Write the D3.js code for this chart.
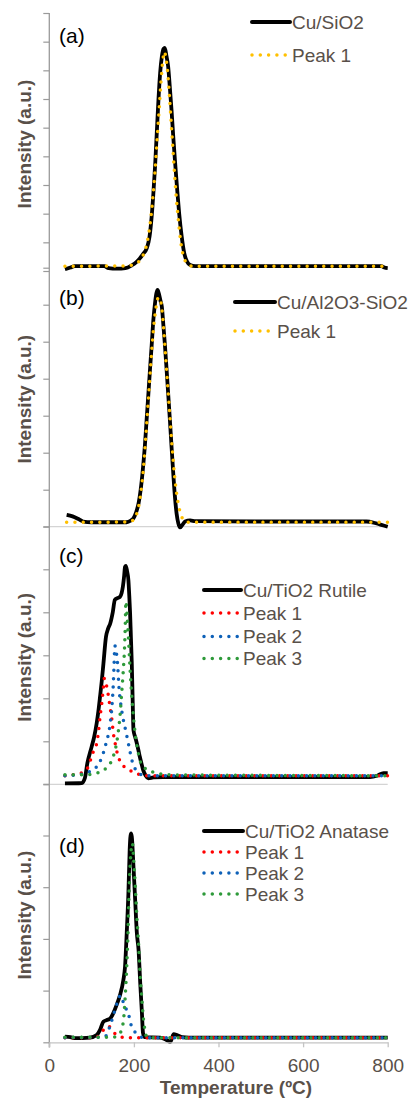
<!DOCTYPE html>
<html>
<head>
<meta charset="utf-8">
<script src="https://cdn.jsdelivr.net/npm/d3@7/dist/d3.min.js"></script>
<style>
  html, body { margin: 0; padding: 0; background: #fff; }
  svg { display: block; }
  text { font-family: "Liberation Sans", Arial, sans-serif; }
</style>
</head>
<body>
<svg id="chart" width="409" height="1100"></svg>
<script>
// TPR profiles: [temperature (ºC), intensity (a.u.)]
const cuSiO2 = [[37,0.06],[50,0.12],[60,0.17],[90,0.17],[130,0.17],[140,0.1],[160,0.08],[180,0.1],[195,0.2],[205,0.3],[214,0.44],[222,0.6],[230,0.78],[237,1.2],[242,1.9],[246,2.7],[250,3.64],[254,4.8],[258,5.96],[262,6.9],[266,7.47],[270,7.75],[273,7.78],[277,7.5],[281,7.13],[285,6.4],[289,5.6],[293,4.7],[297,3.87],[302,2.9],[307,2.01],[313,1.2],[319,0.62],[326,0.32],[333,0.21],[345,0.17],[500,0.17],[700,0.17],[785,0.17],[792,0.12],[800,0.1]];
const cuSiO2Peak1 = [[37,0.17],[100,0.17],[180,0.18],[200,0.22],[210,0.3],[220,0.5],[228,0.8],[235,1.3],[240,1.85],[245,2.6],[250,3.5],[255,4.6],[260,5.7],[264,6.6],[268,7.3],[272,7.65],[276,7.4],[280,6.9],[284,6.1],[288,5.2],[292,4.3],[296,3.4],[300,2.6],[305,1.8],[310,1.1],[315,0.65],[320,0.4],[328,0.22],[340,0.17],[800,0.17]];

const cuAlSi = [[41,0.32],[55,0.28],[70,0.2],[80,0.14],[100,0.12],[150,0.12],[183,0.12],[192,0.16],[199,0.23],[205,0.38],[211,0.63],[216,1.0],[221,1.53],[226,2.2],[230,2.88],[234,3.55],[238,4.24],[242,4.9],[246,5.59],[250,6.05],[253,6.3],[256,6.4],[259,6.3],[263,6.1],[266,5.95],[270,5.4],[273,4.96],[277,4.3],[281,3.6],[285,2.9],[289,2.16],[293,1.45],[297,0.81],[301,0.35],[305,0.09],[309,-0.02],[314,0.04],[321,0.14],[333,0.17],[345,0.15],[500,0.14],[700,0.14],[750,0.14],[770,0.1],[785,0.05],[800,0.0]];
const cuAlSiPeak1 = [[41,0.12],[100,0.12],[190,0.13],[200,0.2],[208,0.4],[215,0.8],[222,1.5],[228,2.4],[234,3.4],[240,4.4],[246,5.3],[252,5.9],[258,6.2],[262,6.15],[266,5.9],[270,5.4],[275,4.6],[280,3.8],[285,3.0],[290,2.2],[296,1.4],[301,0.9],[306,0.55],[312,0.3],[320,0.15],[330,0.12],[800,0.12]];

const cuRutile = [[37,0.02],[77,0.03],[84,0.14],[90,0.49],[100,0.87],[106,1.1],[112,1.42],[116,1.7],[120,2.04],[124,2.4],[128,2.81],[134,3.43],[139,3.62],[144,3.74],[150,4.0],[155,4.29],[161,4.33],[167,4.36],[171,4.45],[174,4.6],[177,4.85],[179,5.06],[181,5.08],[184,4.95],[187,4.75],[189,4.4],[191,3.98],[193,3.4],[195,2.81],[197,2.0],[199,1.26],[203,1.1],[207,0.95],[211,0.78],[214,0.64],[218,0.48],[222,0.33],[228,0.2],[234,0.14],[246,0.16],[270,0.17],[500,0.17],[758,0.17],[775,0.2],[790,0.26],[800,0.26]];
const rutilePeak1 = [[37,0.2],[60,0.23],[77,0.27],[90,0.37],[97,0.55],[104,0.76],[112,0.95],[116,1.2],[120,1.57],[124,1.88],[128,2.27],[130,2.46],[134,2.35],[140,2.04],[144,1.77],[148,1.5],[151,1.22],[155,0.99],[163,0.64],[170,0.49],[183,0.37],[203,0.27],[225,0.2],[800,0.2]];
const rutilePeak2 = [[37,0.2],[80,0.24],[100,0.32],[112,0.41],[125,0.65],[134,0.95],[144,1.42],[148,1.8],[151,2.27],[153,2.75],[155,3.22],[158,3.1],[161,2.85],[165,2.22],[171,1.73],[181,1.23],[188,0.9],[195,0.57],[207,0.3],[220,0.22],[240,0.2],[800,0.2]];
const rutilePeak3 = [[37,0.22],[80,0.22],[112,0.26],[134,0.37],[151,0.64],[158,0.9],[163,1.22],[168,1.69],[171,2.11],[175,2.66],[178,3.2],[179.5,3.66],[181,4.25],[184,3.9],[187,3.43],[191,2.66],[195,2.04],[199,1.57],[203,1.18],[209,0.8],[214,0.57],[222,0.41],[234,0.33],[254,0.26],[280,0.22],[800,0.2]];

const cuAnatase = [[37,0.11],[50,0.1],[61,0.08],[96,0.09],[112,0.14],[120,0.24],[128,0.4],[136,0.43],[144,0.46],[151,0.56],[159,0.72],[167,0.91],[175,1.2],[179,1.46],[183,2.11],[187,2.88],[190,3.72],[193,4.04],[195,3.98],[199,3.4],[203,2.75],[207,2.11],[211,1.79],[215,1.14],[219,0.56],[221.5,0.18],[225,0.1],[262,0.09],[274,0.06],[282,0.02],[286,0.01],[290,0.08],[294,0.16],[302,0.14],[314,0.1],[330,0.09],[800,0.09]];
const anatasePeak1 = [[37,0.09],[110,0.09],[120,0.16],[128,0.24],[134,0.3],[140,0.31],[148,0.24],[155,0.17],[167,0.11],[180,0.09],[800,0.09]];
const anatasePeak2 = [[37,0.09],[125,0.1],[136,0.14],[142,0.28],[148,0.43],[155,0.62],[163,0.82],[168,0.91],[176,0.75],[183,0.62],[187,0.56],[191,0.4],[199,0.24],[207,0.16],[215,0.11],[225,0.09],[800,0.09]];
const anatasePeak3 = [[37,0.1],[151,0.1],[160,0.12],[167,0.17],[175,0.4],[179,0.82],[183,1.46],[186,2.11],[188,2.75],[191,3.4],[193.5,3.72],[196.6,3.85],[199,3.59],[203,3.07],[207,2.43],[211,1.91],[215,1.27],[219,0.82],[222,0.5],[226,0.24],[230,0.11],[240,0.09],[800,0.09]];

const panelLetters = ["(a)", "(b)", "(c)", "(d)"];
const sampleNames = ["Cu/SiO2", "Cu/Al2O3-SiO2", "Cu/TiO2 Rutile", "Cu/TiO2 Anatase"];
const peakNames = ["Peak 1", "Peak 2", "Peak 3"];
const xTicks = [0, 200, 400, 600, 800];
const yTickCounts = [9, 7, 6, 5];
const xTitle = "Temperature (ºC)";
const yTitle = "Intensity (a.u.)";

const TEXT = "#595049";
const AXIS = "#9a9a9a";
const GRID = "#d4d4d4";
const peakColors = { yellow: "#FFC000", red: "#FF0000", blue: "#0E61B8", green: "#2E9A3A" };

const panels = [
  { top: 13,    bottom: 271,    total: cuSiO2,    peaks: [[cuSiO2Peak1, peakColors.yellow]],
    legendX: 252, legendLineEnd: 290, legendRows: [22, 55], labelY: 35, baseline: false },
  { top: 267.7, bottom: 526.7,  total: cuAlSi,    peaks: [[cuAlSiPeak1, peakColors.yellow]],
    legendX: 235, legendLineEnd: 275, legendRows: [302, 331], labelY: 297, baseline: true },
  { top: 526.3, bottom: 784.3,  total: cuRutile,  peaks: [[rutilePeak1, peakColors.red], [rutilePeak2, peakColors.blue], [rutilePeak3, peakColors.green]],
    legendX: 204, legendLineEnd: 241, legendRows: [590, 613, 636.5, 658.5], labelY: 555, baseline: true },
  { top: 783.8, bottom: 1042.3, total: cuAnatase, peaks: [[anatasePeak1, peakColors.red], [anatasePeak2, peakColors.blue], [anatasePeak3, peakColors.green]],
    legendX: 204, legendLineEnd: 243, legendRows: [831, 852, 873, 894], labelY: 845, baseline: false }
];

const svg = d3.select("#chart");
const x = d3.scaleLinear().domain([0, 800]).range([49.3, 387.7]);

const DOT = { width: 3.5, dash: "0 8.3" };
const TOTAL_W = 3.8;
const FONT = 19;

panels.forEach((p, i) => {
  const y = d3.scaleLinear().domain([0, yTickCounts[i]]).range([p.bottom, p.top]);
  const g = svg.append("g");

  if (p.baseline) {
    g.append("line")
      .attr("x1", x(0)).attr("x2", x(800))
      .attr("y1", y(0)).attr("y2", y(0))
      .attr("stroke", GRID).attr("stroke-width", 1.2);
  }

  // left tick stubs
  const ya = g.append("g")
    .attr("transform", `translate(${x(0)},0)`)
    .call(d3.axisLeft(y).tickValues(d3.range(0, yTickCounts[i] + 1)).tickSize(6).tickFormat(""));
  ya.select(".domain").remove();
  ya.selectAll(".tick line").attr("stroke", AXIS).attr("stroke-width", 1.2);

  const line = d3.line()
    .x(d => x(d[0])).y(d => y(d[1]))
    .curve(d3.curveMonotoneX);

  g.append("path")
    .datum(p.total)
    .attr("d", line)
    .attr("fill", "none")
    .attr("stroke", "#000")
    .attr("stroke-width", TOTAL_W)
    .attr("stroke-linejoin", "round");

  p.peaks.forEach(([data, color]) => {
    g.append("path")
      .datum(data)
      .attr("d", line)
      .attr("fill", "none")
      .attr("stroke", color)
      .attr("stroke-width", DOT.width)
      .attr("stroke-linecap", "round")
      .attr("stroke-dasharray", DOT.dash);
  });

  // panel letter
  g.append("text")
    .attr("x", 59).attr("y", p.labelY)
    .attr("dominant-baseline", "central")
    .attr("font-size", 21)
    .attr("fill", "#000")
    .text(panelLetters[i]);

  // y title
  const cy = (p.top + p.bottom) / 2 + 2;
  g.append("text")
    .attr("transform", `translate(24,${cy}) rotate(-90)`)
    .attr("text-anchor", "middle")
    .attr("dominant-baseline", "central")
    .attr("font-size", FONT)
    .attr("font-weight", "bold")
    .attr("fill", TEXT)
    .text(yTitle);

  // legend
  const entries = [{ name: sampleNames[i], color: "#000", dotted: false }]
    .concat(p.peaks.map((pk, k) => ({ name: peakNames[k], color: pk[1], dotted: true })));
  entries.forEach((e, k) => {
    const ly = p.legendRows[k];
    const ln = g.append("line")
      .attr("x1", p.legendX).attr("x2", p.legendLineEnd)
      .attr("y1", ly).attr("y2", ly)
      .attr("stroke", e.color);
    if (e.dotted) {
      ln.attr("stroke-width", DOT.width).attr("stroke-linecap", "round").attr("stroke-dasharray", DOT.dash);
    } else {
      ln.attr("stroke-width", 4).attr("stroke-linecap", "round");
    }
    g.append("text")
      .attr("x", p.legendLineEnd + 2).attr("y", ly)
      .attr("dominant-baseline", "central")
      .attr("font-size", FONT)
      .attr("fill", TEXT)
      .text(e.name);
  });
});

// shared vertical axis
svg.append("line")
  .attr("x1", x(0)).attr("x2", x(0))
  .attr("y1", 13).attr("y2", 1047.5)
  .attr("stroke", AXIS).attr("stroke-width", 1.3);

// temperature axis
const yBottom = panels[3].bottom;
const xa = svg.append("g")
  .attr("transform", `translate(0,${yBottom})`)
  .call(d3.axisBottom(x).tickValues(xTicks).tickSize(5).tickSizeOuter(0));
xa.select(".domain").attr("stroke", "#c4c4c4").attr("stroke-width", 1.3);
xa.selectAll(".tick line").attr("stroke", "#c4c4c4").attr("stroke-width", 1.3);
xa.selectAll(".tick text")
  .attr("y", 23)
  .attr("dy", 0)
  .attr("dominant-baseline", "central")
  .attr("font-size", FONT)
  .attr("font-family", "Liberation Sans, Arial, sans-serif")
  .attr("fill", TEXT);

svg.append("text")
  .attr("x", 236).attr("y", 1087)
  .attr("text-anchor", "middle")
  .attr("dominant-baseline", "central")
  .attr("font-size", FONT)
  .attr("font-weight", "bold")
  .attr("fill", TEXT)
  .text(xTitle);
</script>
</body>
</html>
